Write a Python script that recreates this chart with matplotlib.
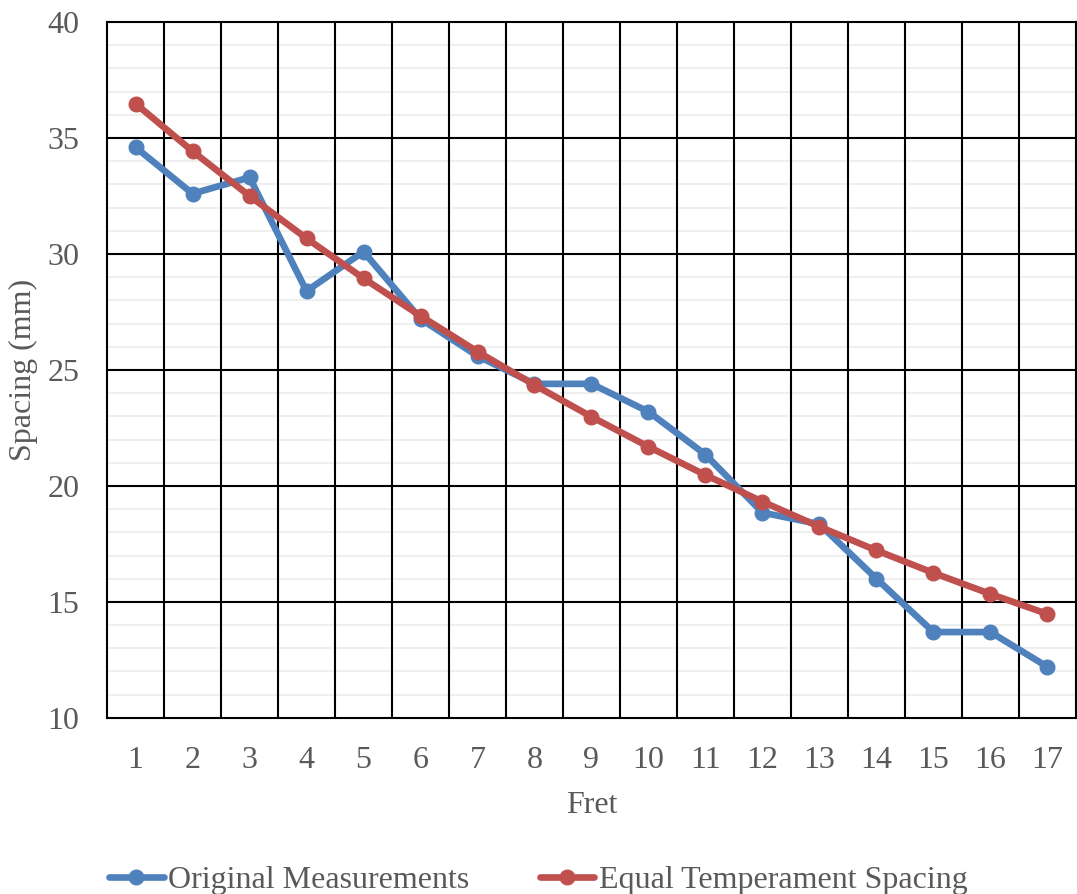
import numpy as np
import matplotlib.pyplot as plt
from matplotlib.ticker import MultipleLocator

# Data
frets = list(range(1, 18))
original = [34.6, 32.6, 33.3, 28.4, 30.1, 27.2, 25.6, 24.4, 24.4, 23.2,
            21.35, 18.85, 18.35, 16.0, 13.7, 13.7, 12.2]
equal_temp = [36.48, 34.43, 32.50, 30.67, 28.95, 27.33, 25.79, 24.35, 22.98,
              21.69, 20.47, 19.32, 18.24, 17.22, 16.25, 15.34, 14.48]

BLUE = '#4F81BD'
RED = '#C0504D'
TEXT = '#595959'
FS = 23

plt.rcParams['font.family'] = ['Liberation Serif', 'DejaVu Serif']

fig = plt.figure(figsize=(10.77, 8.94), dpi=100)
ax = fig.add_axes([0.0994, 0.197, 0.8996, 0.7784])
ax.set_axisbelow(True)

# gridlines: minor light gray every 1, major black every 5, vertical category borders
ax.yaxis.set_major_locator(MultipleLocator(5))
ax.yaxis.set_minor_locator(MultipleLocator(1))
ax.grid(True, axis='y', which='minor', color='#EFEFEF', linewidth=1.5)
for y in range(15, 40, 5):
    ax.axhline(y, color='black', linewidth=1.5, zorder=1.5)
for b in np.arange(1.5, 17.5, 1.0):
    ax.axvline(b, color='black', linewidth=1.5, zorder=1.5)

ax.plot(frets, original, color=BLUE, lw=4.8, marker='o', ms=10.5,
        label='Original Measurements', zorder=3, solid_capstyle='round')
ax.plot(frets, equal_temp, color=RED, lw=4.8, marker='o', ms=10.5,
        label='Equal Temperament Spacing', zorder=4, solid_capstyle='round')

ax.set_xlim(0.5, 17.5)
ax.set_ylim(10, 40)
ax.set_xticks(frets)
ax.tick_params(axis='both', which='both', length=0, labelsize=FS, colors=TEXT)
ax.tick_params(axis='x', pad=20)
ax.tick_params(axis='y', pad=20)
for s in ax.spines.values():
    s.set_color('black')
    s.set_linewidth(1.5)
    s.set_zorder(2)

ax.set_xlabel('Fret', fontsize=FS, color=TEXT, labelpad=12)
ax.set_ylabel('Spacing (mm)', fontsize=FS, color=TEXT, labelpad=7)

fig.legend(loc='lower center', bbox_to_anchor=(0.5, -0.033), ncol=2, frameon=False,
           fontsize=FS, labelcolor=TEXT, handlelength=1.7, handletextpad=0.15,
           columnspacing=2.2)

plt.savefig('out.png')
